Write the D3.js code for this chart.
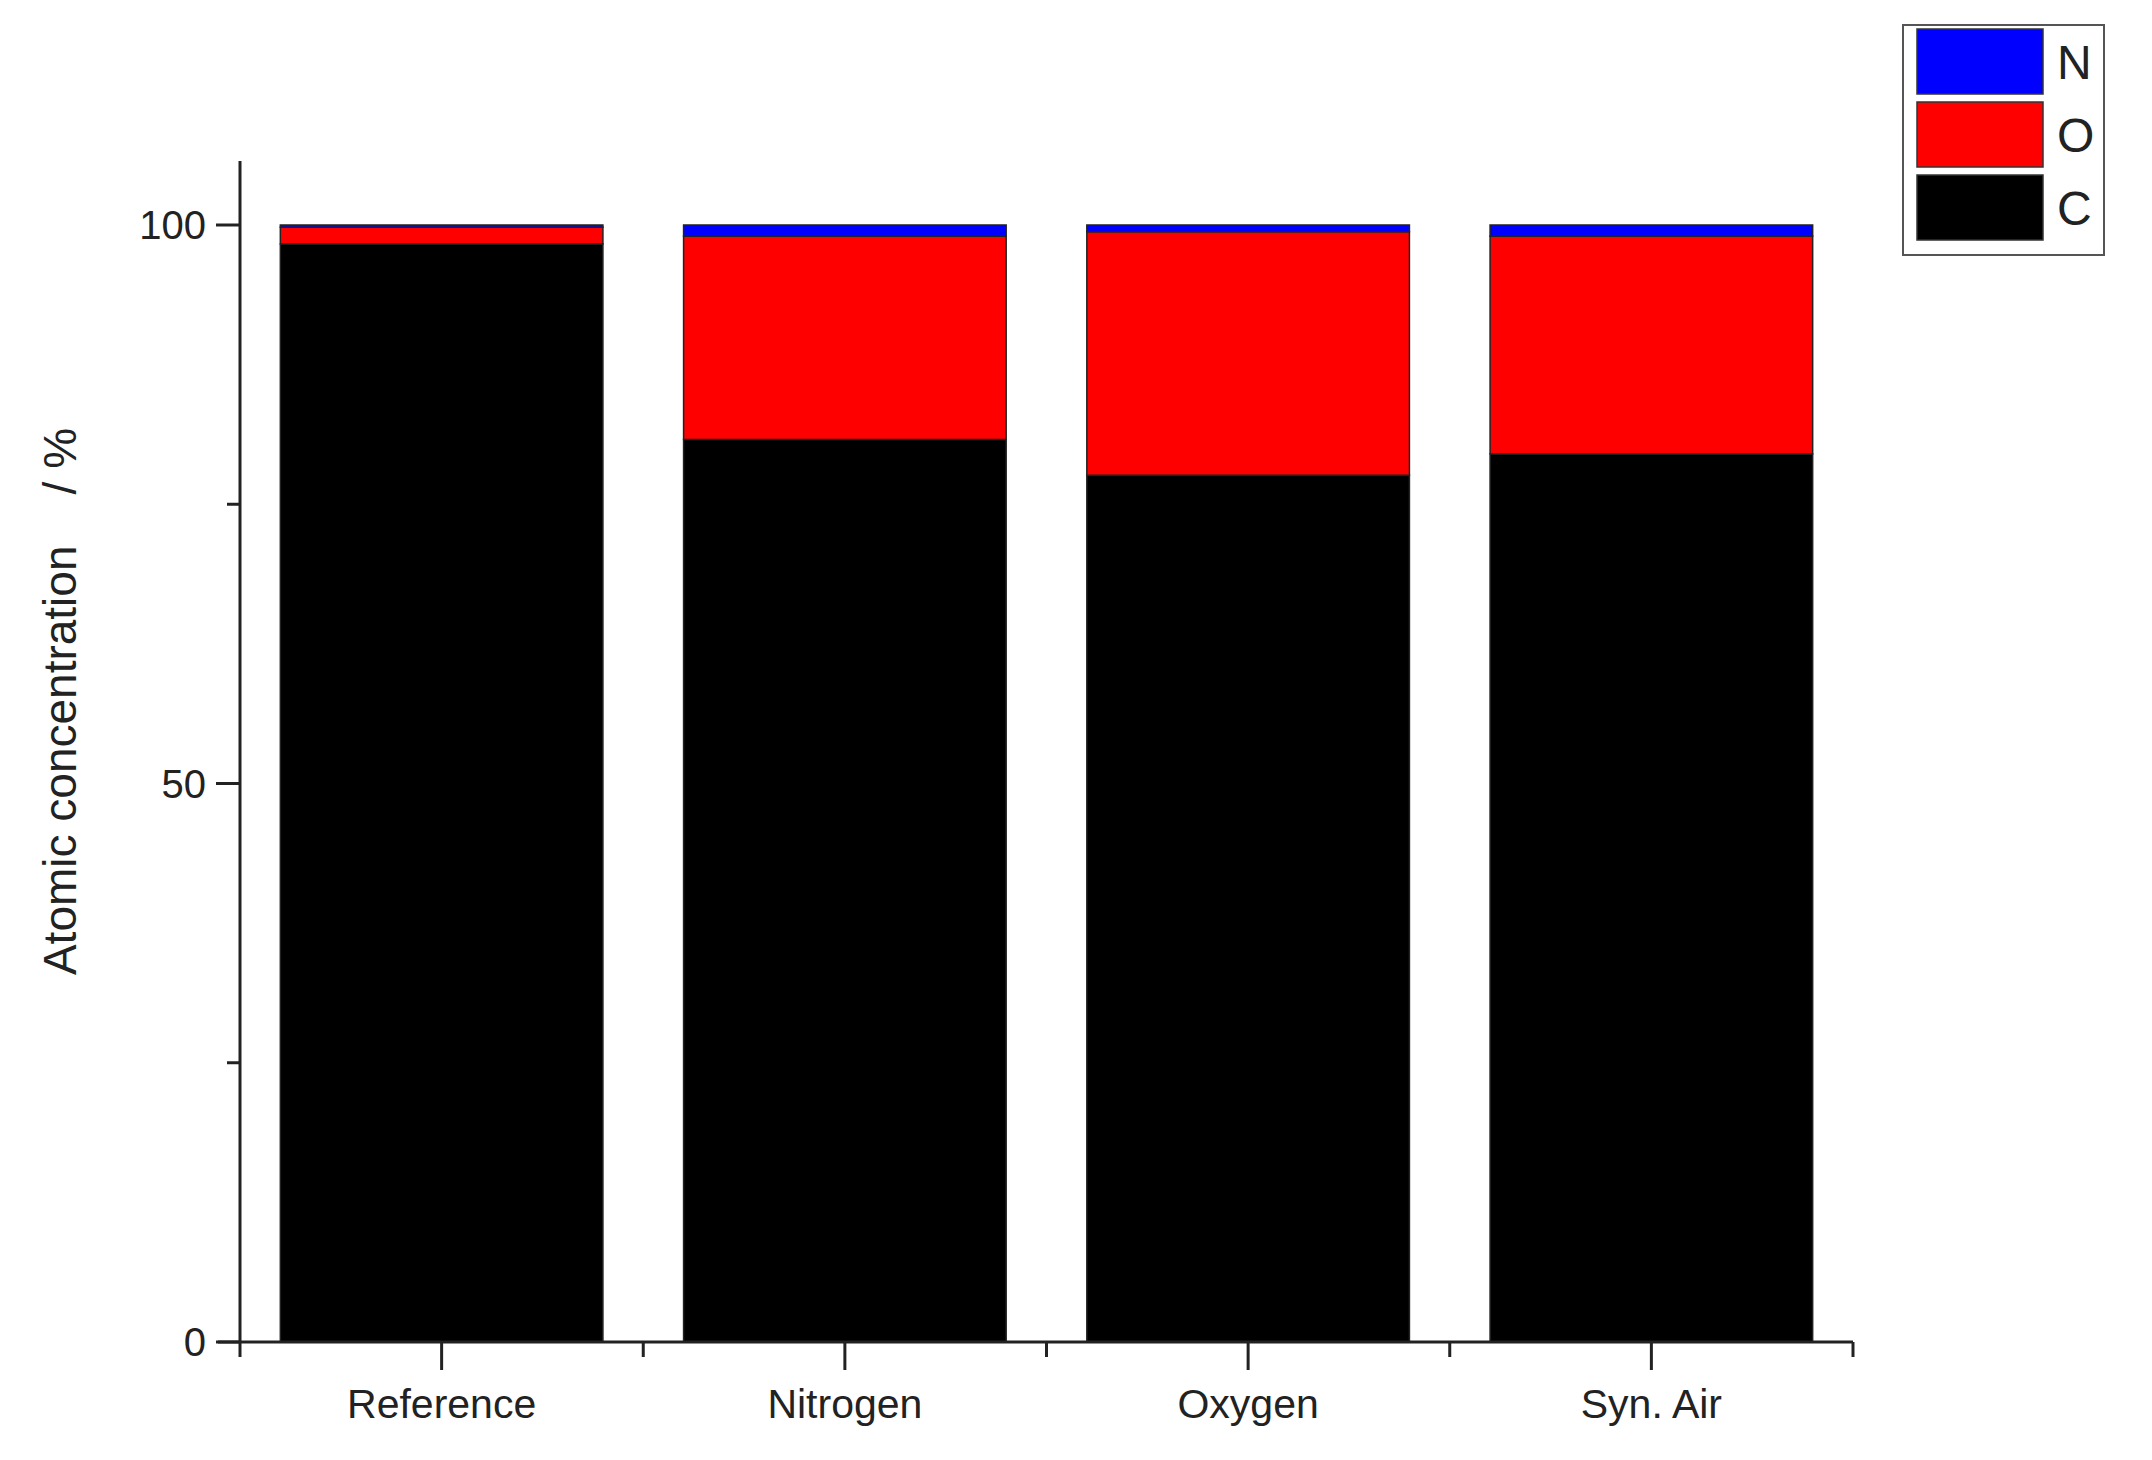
<!DOCTYPE html>
<html>
<head>
<meta charset="utf-8">
<script src="https://d3js.org/d3.v7.min.js"></script>
<style>
  body { margin: 0; background: #fff; }
  text { font-family: "Liberation Sans", Arial, sans-serif; fill: #222; }
</style>
</head>
<body>
<svg id="chart" width="2152" height="1460"></svg>
<script>
// data (atomic %)
var categories = ['Reference', 'Nitrogen', 'Oxygen', 'Syn. Air'];
var elements = ['C', 'O', 'N'];
var valuesC = [98.3, 80.8, 77.6, 79.5];
var valuesO = [1.5, 18.2, 21.8, 19.5];
var valuesN = [0.2, 1.0, 0.6, 1.0];
var colors = {C: '#000000', O: '#ff0000', N: '#0000ff'};
var yTicks = [0, 50, 100];
var yMinor = [25, 75];

var svg = d3.select('#chart');
var plotLeft = 240, plotRight = 1853, plotTop = 161, plotBottom = 1342;

var x = d3.scaleBand().domain(categories).range([plotLeft, plotRight]).paddingInner(0.2).paddingOuter(0.1);
var y = d3.scaleLinear().domain([0, 100]).range([plotBottom, 225]);
// band edges for minor x ticks
var xEdge = d3.scaleLinear().domain([0, categories.length]).range([plotLeft, plotRight]);

// stack rows
var rows = categories.map(function(c, i) {
  return {cat: c, C: valuesC[i], O: valuesO[i], N: valuesN[i]};
});
var series = d3.stack().keys(elements)(rows);

svg.append('g').selectAll('g')
  .data(series)
  .enter().append('g')
    .attr('fill', function(d) { return colors[d.key]; })
  .selectAll('rect')
  .data(function(d) { return d; })
  .enter().append('rect')
    .attr('x', function(d) { return x(d.data.cat); })
    .attr('width', x.bandwidth())
    .attr('y', function(d) { return y(d[1]); })
    .attr('height', function(d) { return y(d[0]) - y(d[1]); })
    .attr('stroke', '#222')
    .attr('stroke-width', 1.5);

// y axis
var yAxis = svg.append('g').attr('transform', 'translate(' + plotLeft + ',0)');
yAxis.append('line').attr('y1', plotTop).attr('y2', plotBottom).attr('stroke', '#222').attr('stroke-width', 3);
yAxis.selectAll('.maj').data(yTicks).enter().append('line')
  .attr('x1', -24).attr('x2', 0)
  .attr('y1', function(d) { return y(d); }).attr('y2', function(d) { return y(d); })
  .attr('stroke', '#222').attr('stroke-width', 3);
yAxis.selectAll('.min').data(yMinor).enter().append('line')
  .attr('x1', -13).attr('x2', 0)
  .attr('y1', function(d) { return y(d); }).attr('y2', function(d) { return y(d); })
  .attr('stroke', '#222').attr('stroke-width', 3);
yAxis.selectAll('text').data(yTicks).enter().append('text')
  .attr('x', -34).attr('y', function(d) { return y(d); })
  .attr('dy', '0.35em').attr('text-anchor', 'end')
  .style('font-size', '40px').text(function(d) { return d; });

// x axis
var xAxis = svg.append('g').attr('transform', 'translate(0,' + plotBottom + ')');
xAxis.append('line').attr('x1', plotLeft - 22).attr('x2', plotRight).attr('stroke', '#222').attr('stroke-width', 3);
xAxis.selectAll('.maj').data(categories).enter().append('line')
  .attr('x1', function(d) { return x(d) + x.bandwidth() / 2; })
  .attr('x2', function(d) { return x(d) + x.bandwidth() / 2; })
  .attr('y1', 0).attr('y2', 28).attr('stroke', '#222').attr('stroke-width', 3);
xAxis.selectAll('.min').data(d3.range(categories.length + 1)).enter().append('line')
  .attr('x1', function(d) { return xEdge(d); }).attr('x2', function(d) { return xEdge(d); })
  .attr('y1', 0).attr('y2', 15).attr('stroke', '#222').attr('stroke-width', 3);
xAxis.selectAll('text').data(categories).enter().append('text')
  .attr('x', function(d) { return x(d) + x.bandwidth() / 2; })
  .attr('y', 76).attr('text-anchor', 'middle')
  .style('font-size', '41px').text(function(d) { return d; });

// y label
svg.append('text')
  .attr('transform', 'translate(76,' + ((plotTop + plotBottom) / 2 - 50) + ') rotate(-90)')
  .attr('text-anchor', 'middle')
  .style('font-size', '46px')
  .style('white-space', 'pre')
  .text('Atomic concentration    / %');

// legend
var legend = svg.append('g').attr('transform', 'translate(1903,25)');
legend.append('rect').attr('width', 201).attr('height', 230)
  .attr('fill', '#fff').attr('stroke', '#555').attr('stroke-width', 2);
var legItems = elements.slice().reverse();
var li = legend.selectAll('g.item').data(legItems).enter().append('g')
  .attr('transform', function(d, i) { return 'translate(14,' + (4 + i * 73) + ')'; });
li.append('rect').attr('width', 126).attr('height', 65)
  .attr('fill', function(d) { return colors[d]; }).attr('stroke', '#333').attr('stroke-width', 1.5);
li.append('text').attr('x', 140).attr('y', 33).attr('dy', '0.35em')
  .style('font-size', '48px').text(function(d) { return d; });
</script>
</body>
</html>
